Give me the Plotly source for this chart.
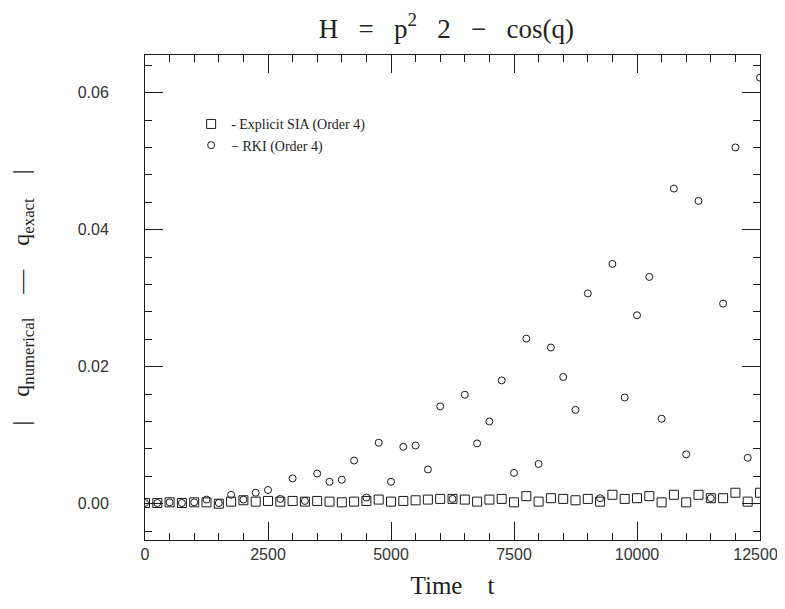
import plotly.graph_objects as go

time_t = [0, 250, 500, 750, 1000, 1250, 1500, 1750, 2000, 2250, 2500, 2750,
          3000, 3250, 3500, 3750, 4000, 4250, 4500, 4750, 5000, 5250, 5500, 5750,
          6000, 6250, 6500, 6750, 7000, 7250, 7500, 7750, 8000, 8250, 8500, 8750,
          9000, 9250, 9500, 9750, 10000, 10250, 10500, 10750, 11000, 11250, 11500,
          11750, 12000, 12250, 12500]

sia_err = [0.0001, 0.0001, 0.0002, 0.0001, 0.0002, 0.0002, 0.0000, 0.0003, 0.0005,
           0.0003, 0.0004, 0.0003, 0.0004, 0.0003, 0.0004, 0.0003, 0.0002, 0.0003,
           0.0004, 0.0006, 0.0003, 0.0004, 0.0005, 0.0006, 0.0007, 0.0007, 0.0006,
           0.0003, 0.0006, 0.0007, 0.0002, 0.0011, 0.0003, 0.0008, 0.0007, 0.0005,
           0.0007, 0.0003, 0.0013, 0.0007, 0.0008, 0.0011, 0.0002, 0.0013, 0.0002,
           0.0013, 0.0008, 0.0008, 0.0016, 0.0003, 0.0016]

rki_err = [0.0001, 0.0001, 0.0002, 0.0001, 0.0002, 0.0006, 0.0001, 0.0013, 0.0006,
           0.0016, 0.0020, 0.0007, 0.0037, 0.0004, 0.0044, 0.0032, 0.0035, 0.0063,
           0.0009, 0.0089, 0.0032, 0.0083, 0.0085, 0.0050, 0.0142, 0.0007, 0.0159,
           0.0088, 0.0120, 0.0180, 0.0045, 0.0241, 0.0058, 0.0228, 0.0185, 0.0137,
           0.0307, 0.0008, 0.0350, 0.0155, 0.0275, 0.0331, 0.0124, 0.0460, 0.0072,
           0.0442, 0.0008, 0.0292, 0.0520, 0.0067, 0.0622]

x_ticks = [0, 2500, 5000, 7500, 10000, 12500]
x_tick_labels = ["0", "2500", "5000", "7500", "10000", "12500"]
y_ticks = [0.00, 0.02, 0.04, 0.06]

ink = "#1a1a1a"
nb = "\u00a0"

fig = go.Figure()
fig.add_trace(go.Scatter(
    x=time_t, y=sia_err, mode="markers",
    name="- Explicit SIA (Order 4)",
    marker=dict(symbol="square-open", size=9, color=ink, line=dict(width=1, color=ink)),
))
fig.add_trace(go.Scatter(
    x=time_t, y=rki_err, mode="markers",
    name="\u2212 RKI (Order 4)",
    marker=dict(symbol="circle-open", size=7, color=ink, line=dict(width=1, color=ink)),
))

# the page body adds an 8px offset, so the figure is sized to fit inside the window
fig.update_layout(
    width=777, height=593,
    margin=dict(l=137, r=25, t=47, b=61, autoexpand=False),
    paper_bgcolor="white", plot_bgcolor="white",
    title=dict(
        text="H" + nb*3 + "=" + nb*3 + "p<sup>2</sup>" + nb*3 + "2" + nb*3 + "\u2212" + nb*3 + "cos(q)",
        x=0.49, xref="paper", xanchor="center", y=0.966, yref="container", yanchor="middle",
        font=dict(family="Liberation Serif", size=27, color="#222"),
    ),
    showlegend=True,
    legend=dict(
        x=0.075, y=0.89, xanchor="left", yanchor="top",
        bgcolor="rgba(0,0,0,0)", borderwidth=0,
        font=dict(family="Liberation Serif", size=14, color="#222"),
        tracegroupgap=0, itemwidth=30,
    ),
    font=dict(family="Liberation Sans", color=ink),
)

# last label padded slightly so its digits stay inside the visible window
x_tick_text = x_tick_labels[:-1] + [x_tick_labels[-1] + nb*2]

fig.update_xaxes(
    range=[0, 12500], tickvals=x_ticks, ticktext=x_tick_text,
    ticklabeloverflow="allow",
    showgrid=False, zeroline=False, automargin=False,
    showline=True, linecolor=ink, linewidth=1, mirror="ticks",
    ticks="inside", ticklen=18, tickcolor=ink, tickwidth=1,
    minor=dict(dtick=500, tick0=0, ticks="inside", ticklen=7, tickcolor=ink, tickwidth=1),
    tickfont=dict(family="Liberation Sans", size=16, color="#333"),
    title=dict(text="Time" + nb*4 + "t" + nb*5, standoff=14,
               font=dict(family="Liberation Serif", size=25, color="#222")),
)

fig.update_yaxes(
    range=[-0.0053, 0.0655], tickvals=y_ticks, ticktext=["%.2f" % v for v in y_ticks],
    showgrid=False, zeroline=False, automargin=False,
    showline=True, linecolor=ink, linewidth=1, mirror="ticks",
    ticks="inside", ticklen=18, tickcolor=ink, tickwidth=1,
    minor=dict(dtick=0.004, tick0=0, ticks="inside", ticklen=7, tickcolor=ink, tickwidth=1),
    tickfont=dict(family="Liberation Sans", size=16, color="#333"),
    ticklabelstandoff=32,
    title=dict(
        text="|" + nb*4 + "q<sub>numerical</sub>" + nb*4 + "\u2014" + nb*4 + "q<sub>exact</sub>" + nb*4 + "|",
        standoff=45,
        font=dict(family="Liberation Serif", size=24, color="#222"),
    ),
)

fig.write_html("out.html")
